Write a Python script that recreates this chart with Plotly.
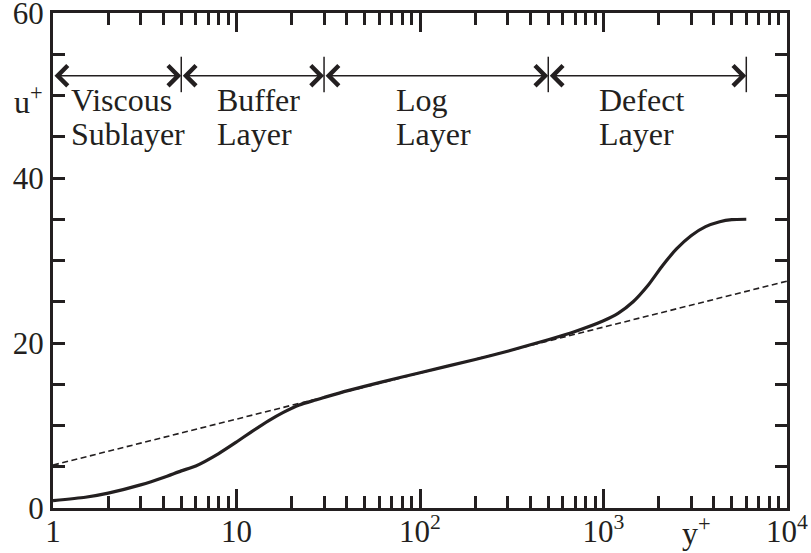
import plotly.graph_objects as go
import math

# ---- data ----
y_plus = [1, 1.5, 2, 3, 4, 5, 6, 8, 10, 12, 15, 18, 22, 27, 30, 40, 60, 100, 200, 300,
          500, 700, 1000, 1200, 1450, 1750, 2100, 2500, 3000, 3600, 4300, 5000, 6000]
u_plus = [0.9, 1.3, 1.8, 2.8, 3.7, 4.5, 5.1, 6.6, 8.0, 9.2, 10.6, 11.6, 12.5, 13.1, 13.4,
          14.2, 15.2, 16.4, 18.0, 19.0, 20.4, 21.4, 22.7, 23.6, 25.0, 27.0, 29.4, 31.4,
          33.0, 34.1, 34.7, 34.95, 35.0]

log_law_x = [1, 10000]
log_law_u = [5.2, 27.5]

region_bounds = [1, 5, 30, 500, 6000]
region_line1 = ["Viscous", "Buffer", "Log", "Defect"]
region_line2 = ["Sublayer", "Layer", "Layer", "Layer"]
region_label_x = [1.22, 7.6, 72.5, 920]
arrow_u = 52.4
bar_u = [50.4, 54.7]
label_u = [49.4, 45.3]

x_tickvals = [1, 10, 100, 1000, 10000]
x_ticktext = ["1", "10", "10<sup>2</sup>", "10<sup>3</sup>", "10<sup>4</sup>"]
y_tickvals = [0, 20, 40, 60]

INK = "#231f20"
FONT = "Liberation Serif, DejaVu Serif, serif"

fig = go.Figure()

fig.add_trace(go.Scatter(x=log_law_x, y=log_law_u, mode="lines",
                         line=dict(color=INK, width=1.6, dash="6px,3.5px"),
                         hoverinfo="skip", showlegend=False))
fig.add_trace(go.Scatter(x=y_plus, y=u_plus, mode="lines",
                         line=dict(color=INK, width=3.2, shape="spline", smoothing=0.6),
                         showlegend=False))

# vertical bars at region boundaries (except the axis at 1)
bx, by = [], []
for b in region_bounds[1:]:
    bx += [b, b, None]
    by += [bar_u[0], bar_u[1], None]
fig.add_trace(go.Scatter(x=bx, y=by, mode="lines", line=dict(color=INK, width=1.5),
                         hoverinfo="skip", showlegend=False))

annotations = []
for i in range(len(region_bounds) - 1):
    a, b = region_bounds[i], region_bounds[i + 1]
    annotations.append(dict(
        x=math.log10(b), y=arrow_u, ax=math.log10(a), ay=arrow_u,
        xref="x", yref="y", axref="x", ayref="y", text="",
        showarrow=True, arrowside="end+start", arrowhead=4, startarrowhead=4,
        arrowsize=2.6, startarrowsize=2.6, arrowwidth=1.5, arrowcolor=INK,
        standoff=0, startstandoff=0))
for i in range(len(region_line1)):
    for txt, uu in ((region_line1[i], label_u[0]), (region_line2[i], label_u[1])):
        annotations.append(dict(
            x=math.log10(region_label_x[i]), y=uu, xref="x", yref="y",
            text=txt, showarrow=False, xanchor="left", yanchor="middle",
            font=dict(family=FONT, size=32, color=INK)))

annotations.append(dict(x=-0.033, y=0.824, xref="paper", yref="paper",
                        text="u<sup>+</sup>", showarrow=False,
                        xanchor="center", yanchor="middle",
                        font=dict(family=FONT, size=32, color=INK)))
annotations.append(dict(x=0.877, y=-0.047, xref="paper", yref="paper",
                        text="y<sup>+</sup>", showarrow=False,
                        xanchor="center", yanchor="middle",
                        font=dict(family=FONT, size=32, color=INK)))

minor_x = [d * 10 ** k for k in range(4) for d in range(2, 10)]

fig.update_layout(
    width=811, height=553,
    margin=dict(l=53, r=24, t=13, b=45),
    paper_bgcolor="white", plot_bgcolor="white",
    annotations=annotations,
    xaxis=dict(type="log", range=[0, 4], tickvals=x_tickvals, ticktext=x_ticktext,
               ticks="inside", ticklen=19, tickwidth=2.5, tickcolor=INK,
               minor=dict(tickvals=minor_x, ticks="inside", ticklen=12,
                          tickwidth=2.5, tickcolor=INK, showgrid=False),
               showline=True, linewidth=3, linecolor=INK, mirror="ticks",
               showgrid=False, zeroline=False, ticklabeloverflow="allow",
               ticklabelstandoff=-6, automargin=False,
               tickfont=dict(family=FONT, size=31, color=INK)),
    yaxis=dict(range=[0, 60], tickvals=y_tickvals,
               ticks="inside", ticklen=12, tickwidth=2.5, tickcolor=INK,
               minor=dict(dtick=5, ticks="inside", ticklen=12, tickwidth=2.5,
                          tickcolor=INK, showgrid=False),
               showline=True, linewidth=3, linecolor=INK, mirror="ticks",
               showgrid=False, zeroline=False, ticklabeloverflow="allow",
               automargin=False,
               tickfont=dict(family=FONT, size=31, color=INK)),
)

fig.write_html("out.html")
